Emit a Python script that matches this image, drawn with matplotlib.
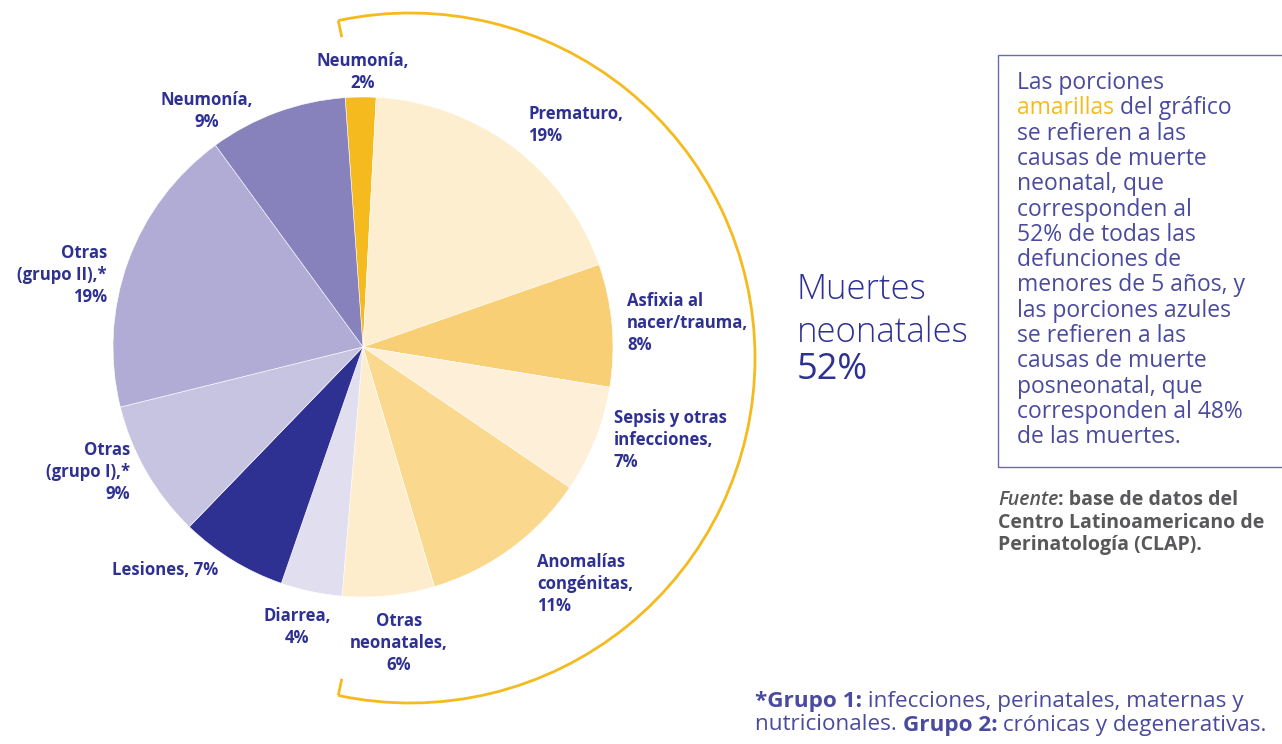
import matplotlib
matplotlib.use('Agg')
from matplotlib import pyplot as plt
from matplotlib.patches import Arc
import numpy as np

W, H = 1282, 744

# slices clockwise from the top
causes = ['Neumonía', 'Prematuro', 'Asfixia al nacer/trauma', 'Sepsis y otras infecciones',
          'Anomalías congénitas', 'Otras neonatales', 'Diarrea', 'Lesiones',
          'Otras (grupo I)', 'Otras (grupo II)', 'Neumonía']
shares = [2, 19, 8, 7, 11, 6, 4, 7, 9, 19, 9]
slice_colors = ['#F5BA1E', '#FDEECF', '#F8CF75', '#FDEFD8', '#FAD98F', '#FDEDCD',
                '#E1DEF0', '#2E3192', '#C7C4E2', '#B0ACD6', '#8781BC']
slice_labels = ['Neumonía,\n2%', 'Prematuro,\n19%', 'Asfixia al\nnacer/trauma,\n8%',
                'Sepsis y otras\ninfecciones,\n7%', 'Anomalías\ncongénitas,\n11%',
                'Otras\nneonatales,\n6%', 'Diarrea,\n4%', 'Lesiones, 7%',
                'Otras\n(grupo I),*\n9%', 'Otras\n(grupo II),*\n19%', 'Neumonía,\n9%']

box_lines = ['Las porciones', None, 'se refieren a las', 'causas de muerte',
             'neonatal, que', 'corresponden al', '52% de todas las', 'defunciones de',
             'menores de 5 años, y', 'las porciones azules', 'se refieren a las',
             'causas de muerte', 'posneonatal, que', 'corresponden al 48%',
             'de las muertes.']

NAVY = '#2E3192'
TXT = '#4A4A9E'
GOLD = '#F5BA1E'
GREY = '#58585A'

plt.rcParams['font.family'] = ['Open Sans', 'DejaVu Sans']

fig = plt.figure(figsize=(W / 100, H / 100), dpi=100)
ax = fig.add_axes([0, 0, 1, 1])


def Y(y):
    return H - y


cx, cy, r = 363, Y(347), 250
ax.pie(shares, colors=slice_colors, startangle=94.1, counterclock=False,
       center=(cx, cy), radius=r, frame=True,
       wedgeprops=dict(edgecolor='white', linewidth=0.4))
ax.set_xlim(0, W)
ax.set_ylim(0, H)
ax.set_aspect('equal')
ax.axis('off')

# label positions (px) and alignment
label_pos = [(363, 72, 'center'), (528, 125, 'left'), (627, 323, 'left'),
             (614, 440, 'left'), (537, 584, 'left'), (399, 643, 'center'),
             (297, 627, 'center'), (218, 570, 'right'), (130, 472, 'right'),
             (107, 275, 'right'), (207, 111, 'center')]
for lab, (x, y, ha) in zip(slice_labels, label_pos):
    ax.text(x, Y(y), lab, ha=ha, va='center', multialignment=ha,
            fontsize=12.1, fontweight='bold', color=NAVY, linespacing=1.28)

# yellow bracket around the neonatal part
acx, acy, ar = 410, Y(358), 345
ax.add_patch(Arc((acx, acy), 2 * ar, 2 * ar, theta1=-102, theta2=102,
                 color=GOLD, lw=2))
for a in (102, -102):
    t = np.radians(a)
    x0, y0 = acx + ar * np.cos(t), acy + ar * np.sin(t)
    x1, y1 = acx + (ar - 17) * np.cos(t), acy + (ar - 17) * np.sin(t)
    ax.plot([x0, x1], [y0, y1], color=GOLD, lw=2, solid_capstyle='butt')

ax.text(797, Y(290), 'Muertes', fontsize=25, fontweight='light', color=NAVY, va='center')
ax.text(797, Y(333), 'neonatales', fontsize=25, fontweight='light', color=NAVY, va='center')
ax.text(797, Y(370), '52%', fontsize=26, fontweight='normal', color=NAVY, va='center')

# info box
ax.add_patch(plt.Rectangle((998, Y(467)), 300, 412, fill=False, edgecolor='#6A6AB0', lw=1))
renderer = fig.canvas.get_renderer()
BOX_FS = 16.5
for i, line in enumerate(box_lines):
    y = Y(83 + i * 25.3)
    if line is None:
        t = ax.text(1017, y, 'amarillas', fontsize=BOX_FS, color=GOLD, va='center')
        w = t.get_window_extent(renderer).width
        ax.text(1017 + w, y, ' del gráfico', fontsize=BOX_FS, color=TXT, va='center')
    else:
        ax.text(1017, y, line, fontsize=BOX_FS, color=TXT, va='center')

# source
SRC_FS = 14
t = ax.text(998, Y(500), 'Fuente', fontsize=SRC_FS, fontstyle='italic', fontweight='semibold',
            color=GREY, va='center')
w = t.get_window_extent(renderer).width
ax.text(998 + w, Y(500), ': base de datos del', fontsize=SRC_FS, fontweight='bold',
        color=GREY, va='center')
ax.text(998, Y(523), 'Centro Latinoamericano de', fontsize=SRC_FS, fontweight='bold',
        color=GREY, va='center')
ax.text(998, Y(545), 'Perinatología (CLAP).', fontsize=SRC_FS, fontweight='bold',
        color=GREY, va='center')


def rich_line(x, y, parts, size=16.2):
    for txt, bold in parts:
        t = ax.text(x, Y(y), txt, fontsize=size, color=TXT, va='center',
                    fontweight='bold' if bold else 'normal')
        x += t.get_window_extent(renderer).width


rich_line(755, 701, [('*Grupo 1:', True), (' infecciones, perinatales, maternas y', False)])
rich_line(755, 725, [('nutricionales. ', False), ('Grupo 2:', True), (' crónicas y degenerativas.', False)])

fig.savefig('out.png', dpi=100)
